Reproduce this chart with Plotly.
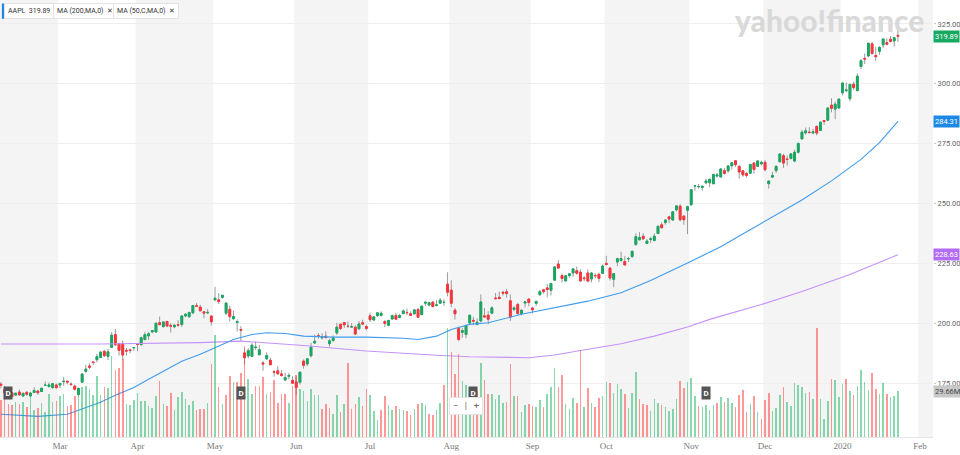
import numpy as np
import pandas as pd
import plotly.graph_objects as go

# ---------------- data (AAPL daily) ----------------
opens = [174.65,172.40,168.99,171.05,170.10,171.39,169.71,171.25,169.71,171.19,171.80,171.58,174.16,173.71,173.21,174.32,
 174.28,175.69,175.94,174.67,173.87,170.32,175.49,180.00,182.25,183.90,184.85,185.80,188.35,186.23,190.02,195.34,191.51,191.66,188.75,188.95,189.83,
 191.64,191.09,193.25,194.79,196.45,196.42,200.32,198.68,200.85,199.20,198.58,199.46,199.54,203.12,202.83,204.43,207.36,206.83,204.90,204.40,203.06,
 209.88,209.84,210.89,204.29,205.88,201.90,200.40,197.42,187.71,186.41,186.27,189.91,186.93,183.52,185.22,184.66,179.80,180.20,178.92,176.42,177.95,176.23,
 175.60,175.44,184.28,183.08,186.51,191.81,194.86,193.95,194.70,191.55,192.90,196.05,199.68,200.37,198.80,198.54,198.43,197.77,200.29,198.68,
 203.17,201.41,203.28,203.35,200.81,199.20,201.85,203.31,202.45,204.09,204.59,204.05,204.00,205.79,203.65,208.46,207.67,208.89,207.48,208.46,208.76,216.42,
 213.90,205.53,197.99,196.31,195.41,200.20,201.30,199.62,201.02,203.16,203.46,204.28,210.62,210.88,212.99,213.19,209.43,205.86,207.86,204.10,208.50,210.16,
 206.43,208.39,212.00,214.05,214.84,213.86,218.07,224.80,220.00,217.73,219.96,221.06,222.01,221.38,218.95,221.03,218.55,220.00,220.54,220.90,
 225.07,223.06,218.43,225.64,226.27,225.82,227.03,227.93,232.95,234.90,236.39,233.37,235.09,234.59,237.52,241.16,242.10,244.51,243.16,247.42,248.97,244.76,247.24,
 249.54,257.33,257.05,256.77,258.74,258.69,258.30,261.55,261.13,263.75,263.68,265.80,267.90,265.54,263.69,262.59,262.71,266.94,265.58,266.60,
 267.27,258.31,261.07,263.79,267.48,270.00,268.60,268.81,267.78,271.46,277.00,279.57,279.80,279.50,282.23,280.53,284.69,284.82,291.12,289.46,289.93,
 296.24,297.15,293.79,299.84,297.16,307.24,310.60,311.64,316.70,311.85,313.59,316.27,317.19,318.58,317.92,320.25]

highs = [175.57,173.94,170.66,171.21,171.00,172.48,171.26,171.70,171.44,173.32,172.37,173.00,175.87,175.30,175.00,174.91,
 175.15,177.75,176.00,175.49,174.44,173.07,179.12,182.67,183.30,184.10,187.33,188.39,188.99,189.49,196.33,197.69,191.98,192.88,189.76,189.56,190.08,
 191.68,194.46,196.50,196.37,197.10,200.23,202.85,200.74,201.00,200.14,199.85,201.37,203.38,204.15,204.94,207.75,208.48,207.76,205.00,205.97,203.40,
 215.31,212.65,211.84,208.84,207.42,205.34,201.68,198.85,189.48,189.70,191.75,192.47,190.90,184.35,188.00,185.71,180.54,182.14,180.59,179.35,179.23,177.99,
 177.92,179.83,184.99,185.47,191.92,195.37,196.00,195.97,196.79,193.59,194.96,200.29,199.88,200.61,200.85,200.16,199.26,200.99,201.57,199.49,
 204.49,203.13,204.44,205.08,201.40,201.51,203.73,204.39,204.00,205.87,206.11,205.09,205.88,206.50,207.23,208.91,209.15,209.24,209.73,210.64,210.16,221.37,
 218.03,206.43,198.65,198.07,199.56,203.53,202.76,202.05,212.14,206.44,205.14,207.16,212.73,213.35,213.65,214.44,212.05,207.19,208.55,205.72,209.32,210.45,
 206.98,209.48,213.97,214.42,216.44,216.78,223.71,226.42,220.79,220.13,220.82,222.85,223.76,222.56,219.84,222.49,221.50,220.94,220.96,224.58,
 228.22,223.58,220.96,227.49,229.93,228.06,227.79,230.44,237.64,238.13,237.65,235.24,236.15,237.58,240.99,242.20,243.24,244.80,246.73,249.25,249.75,245.30,249.17,
 255.93,257.85,258.19,257.49,260.35,260.44,262.47,262.79,264.78,264.88,265.78,267.43,268.00,266.08,264.01,263.18,266.44,267.16,267.98,268.00,
 268.25,259.53,263.31,265.89,271.00,270.80,270.07,271.10,272.56,275.30,280.79,281.77,281.90,281.18,282.65,284.25,284.89,289.98,293.97,292.69,293.68,
 300.60,300.58,299.96,300.90,304.44,310.43,312.67,317.07,317.57,315.50,315.70,318.74,319.02,319.99,319.56,323.33]

lows = [172.85,170.34,168.42,169.25,169.70,169.92,169.38,169.75,169.49,170.99,170.30,171.38,173.95,173.17,172.73,172.92,
 172.89,173.97,174.54,173.94,172.02,169.50,175.35,179.37,180.92,182.56,183.74,185.79,185.92,184.73,189.81,190.78,186.60,184.58,186.55,187.53,188.54,
 188.38,191.05,193.15,193.14,195.93,196.34,199.23,198.18,198.44,196.21,198.01,198.56,198.61,202.52,202.34,203.90,207.05,205.12,202.12,203.86,199.11,
 209.23,208.13,210.23,203.50,200.83,201.75,196.66,192.77,182.85,185.41,186.02,188.84,186.76,180.28,184.70,182.55,177.81,178.62,177.91,176.00,176.67,174.99,
 170.27,174.52,181.14,182.15,185.77,191.62,193.60,193.39,193.60,190.30,192.17,195.21,197.31,198.03,198.15,198.17,195.29,197.35,199.57,197.05,
 200.65,201.36,202.69,202.90,198.41,198.81,201.56,201.71,202.20,204.00,203.50,203.27,203.70,202.36,203.61,207.29,207.17,206.73,207.14,208.44,207.31,211.30,
 206.74,201.63,192.58,194.04,193.82,199.39,199.29,199.15,200.48,202.59,199.67,203.84,210.03,210.32,211.60,210.75,201.00,205.06,203.53,203.32,206.66,207.20,
 204.22,207.32,211.51,212.51,211.07,211.71,217.73,222.86,217.02,217.56,219.12,219.44,220.37,217.47,217.65,217.19,217.14,218.83,217.28,220.79,
 224.20,217.93,215.13,223.89,225.84,224.33,225.64,227.30,232.31,234.67,234.88,233.20,233.52,234.29,237.32,239.62,241.22,241.81,242.88,246.72,242.57,241.21,237.26,
 249.16,255.38,256.32,255.37,258.11,256.85,258.28,260.92,261.07,262.10,263.01,264.23,265.39,260.40,261.18,260.84,262.52,262.50,265.31,265.90,
 263.45,256.29,260.68,262.73,267.30,264.91,265.86,268.50,267.32,270.93,276.98,278.80,279.12,278.95,278.56,280.37,282.92,284.70,288.12,285.22,289.52,
 295.19,296.50,292.75,297.48,297.16,306.20,308.25,311.15,312.17,309.55,312.09,315.00,316.00,317.31,315.65,317.52]

closes = [174.24,170.94,170.41,169.43,170.89,170.18,170.80,170.42,170.93,172.03,171.06,172.97,174.23,174.33,174.87,173.15,
 174.97,175.85,175.53,174.52,172.50,172.91,178.90,180.91,181.71,183.73,186.12,188.02,186.53,188.16,195.09,191.05,188.74,186.79,188.47,188.72,189.95,
 191.24,194.02,195.35,195.69,197.00,200.10,199.50,200.62,198.95,198.87,199.23,199.25,203.13,203.86,204.53,207.48,207.16,205.28,204.30,204.61,200.67,
 210.52,209.15,211.75,208.48,202.86,202.90,200.72,197.18,185.72,188.66,190.92,190.08,189.00,183.09,186.60,182.78,179.66,178.97,178.23,177.38,178.30,175.07,
 173.30,179.64,182.54,185.22,190.15,192.58,194.81,194.19,194.15,192.74,193.89,198.45,197.87,199.46,198.78,198.58,195.57,199.80,199.74,197.92,
 201.55,202.73,204.41,204.23,200.02,201.24,203.23,201.75,203.30,205.21,204.50,203.35,205.66,202.59,207.22,208.84,208.67,207.02,207.74,209.68,208.78,213.04,
 208.43,204.02,193.34,197.00,199.04,203.43,200.99,200.48,208.97,202.75,201.74,206.50,210.35,210.36,212.64,212.46,202.64,206.49,204.16,205.53,209.01,208.74,
 205.70,209.19,213.28,213.26,214.17,216.70,223.59,223.09,218.75,219.90,220.70,222.77,220.96,217.73,218.72,217.68,221.03,219.89,218.82,223.97,
 224.59,218.96,220.82,227.01,227.06,224.40,227.03,230.09,236.21,235.87,235.32,234.37,235.28,236.41,240.51,239.96,243.18,243.58,246.58,249.05,243.29,243.26,248.76,
 255.82,257.50,257.13,257.24,259.43,260.14,262.20,261.96,264.47,262.64,265.76,267.10,266.29,263.19,262.01,261.78,266.37,264.29,267.84,267.25,
 264.16,259.45,261.74,265.58,270.71,266.92,268.48,270.77,271.46,275.15,279.86,280.41,279.74,280.02,279.44,284.00,284.27,289.91,289.80,291.52,293.65,
 300.35,297.43,299.80,298.39,303.19,309.63,310.33,316.96,312.68,311.34,315.24,318.73,316.57,317.70,319.23,319.89]

volumes_m = [23.7,24.7,21.5,20.9,22.6,21.5,22.6,19.4,26.2,17.2,18.7,21.9,16.1,28.0,22.6,23.0,
 26.2,27.7,20.0,20.9,26.2,26.2,32.3,32.7,30.8,26.9,39.4,27.3,32.3,31.6,52.0,43.4,44.7,50.5,21.5,20.9,23.7,
 28.6,23.0,23.4,20.0,18.7,26.2,36.3,21.5,19.8,28.6,17.2,25.8,29.0,24.3,20.4,23.0,17.6,18.3,18.3,22.2,46.9,
 65.6,32.3,21.5,26.9,39.4,35.5,35.5,41.5,58.5,37.2,28.0,33.0,33.0,39.0,28.0,29.0,37.0,22.0,28.0,28.0,22.0,33.0,
 40.0,31.0,30.0,23.0,31.0,27.0,27.0,18.0,21.0,19.0,15.0,27.0,16.0,21.0,48.0,18.0,21.0,26.0,20.0,31.0,
 27.3,16.6,11.2,17.2,26.5,20.9,17.2,20.0,18.3,17.2,16.6,14.4,18.3,21.1,22.2,20.4,15.1,14.0,17.6,21.7,33.8,70.3,
 54.8,40.9,53.3,36.1,33.8,30.1,24.7,30.0,47.7,36.8,27.5,27.7,24.3,26.9,21.7,22.4,47.3,26.2,26.2,15.9,20.9,21.3,
 20.0,19.1,24.1,19.1,27.5,32.0,44.7,32.3,40.2,21.3,18.3,25.4,21.9,56.3,19.4,31.6,22.2,19.1,25.4,26.2,
 35.3,35.1,28.6,34.4,30.8,27.7,18.9,28.4,41.9,24.3,21.5,20.4,16.8,24.3,21.7,20.9,19.1,17.0,17.8,24.3,36.1,31.6,35.3,
 38.1,26.2,19.8,19.1,20.4,17.4,20.4,21.9,25.6,22.4,25.2,21.7,19.1,26.9,30.5,16.1,21.1,26.2,16.1,11.4,
 23.9,28.4,17.0,18.9,26.9,32.3,22.6,19.8,34.6,33.8,32.0,28.6,29.0,24.7,70.3,24.7,11.8,23.4,37.2,36.6,25.8,
 34.2,37.2,29.9,27.3,33.1,43.0,35.5,30.5,41.1,30.8,27.5,34.8,27.9,25.6,26.2,29.66]

# moving averages at sample dates
ma50_dates = ["2019-02-06","2019-02-21","2019-03-05","2019-03-11","2019-03-18","2019-03-22","2019-03-29",
              "2019-04-04","2019-04-11","2019-04-17","2019-04-25","2019-05-01","2019-05-08","2019-05-15",
              "2019-05-21","2019-05-29","2019-06-05","2019-06-17","2019-06-28","2019-07-15","2019-07-19",
              "2019-07-26","2019-08-01","2019-08-08","2019-08-15","2019-08-28","2019-09-11","2019-09-24",
              "2019-10-07","2019-10-17","2019-11-01","2019-11-13","2019-11-20","2019-12-03","2019-12-16",
              "2019-12-27","2020-01-09","2020-01-16","2020-01-24"]
ma50_vals = [162.1,161.2,162.1,164.2,167.1,170.0,173.3,176.7,180.8,184.2,187.1,190.0,193.3,195.4,
             196.1,195.8,194.7,194.3,194.3,193.8,193.3,194.7,197.5,199.6,200.3,203.8,206.7,209.3,
             212.8,217.9,226.0,232.0,236.5,243.5,251.5,259.5,268.5,275.5,284.31]

ma200_dates = ["2019-02-06","2019-03-18","2019-04-25","2019-05-10","2019-06-05","2019-06-28","2019-07-26",
               "2019-08-08","2019-08-30","2019-09-11","2019-09-20","2019-10-07","2019-10-18","2019-10-31",
               "2019-11-08","2019-11-29","2019-12-16","2020-01-06","2020-01-24"]
ma200_vals = [191.4,191.4,192.0,192.6,190.8,188.5,186.7,186.1,185.7,186.8,188.7,191.5,194.7,198.5,
              201.7,207.9,213.3,220.4,228.63]

holidays = ["2019-02-18","2019-04-19","2019-05-27","2019-07-04","2019-09-02",
            "2019-11-28","2019-12-25","2020-01-01","2020-01-20"]
month_ticks = ["2019-03-01","2019-04-01","2019-05-01","2019-06-01","2019-07-01","2019-08-01",
               "2019-09-01","2019-10-01","2019-11-01","2019-12-01","2020-01-01","2020-02-01"]
month_labels = ["Mar","Apr","May","Jun","Jul","Aug","Sep","Oct","Nov","Dec","2020","Feb"]
shaded_months = [("2019-01-01","2019-03-01"),("2019-04-01","2019-05-01"),("2019-06-01","2019-07-01"),
                 ("2019-08-01","2019-09-01"),("2019-10-01","2019-11-01"),("2019-12-01","2020-01-01"),
                 ("2020-02-01","2020-03-01")]
dividend_dates = ["2019-02-08","2019-05-10","2019-08-09","2019-11-07"]
price_ticks = [175, 200, 225, 250, 275, 300, 325]

n = len(closes)
assert len(opens) == n and len(highs) == n and len(lows) == n and len(volumes_m) == n, \
    (len(opens), len(highs), len(lows), len(closes), len(volumes_m))

# trading-day calendar -> integer positions on the x axis
cal = pd.bdate_range("2019-02-06", "2020-02-14")
cal = cal[~cal.isin(pd.to_datetime(holidays))]
def pos(d):
    return int(np.searchsorted(cal.values, np.datetime64(pd.Timestamp(d))))

x = np.arange(n)
o = np.array(opens); h = np.array(highs); l = np.array(lows); c = np.array(closes)

GREEN = "#17a862"
RED = "#ff333a"
prev = np.concatenate([[o[0]], c[:-1]])
vol_colors = ["rgba(30,180,100,0.52)" if c[i] >= prev[i] else "rgba(255,60,60,0.52)" for i in range(n)]

fig = go.Figure()

# volume
fig.add_trace(go.Bar(x=x, y=volumes_m, marker=dict(color=vol_colors, line=dict(width=0)),
                     width=0.42, yaxis="y2", hoverinfo="skip", showlegend=False))

# moving averages
fig.add_trace(go.Scatter(x=[pos(d) for d in ma200_dates], y=ma200_vals, mode="lines",
                         line=dict(color="#c592fb", width=1.1), showlegend=False, hoverinfo="skip"))
fig.add_trace(go.Scatter(x=[pos(d) for d in ma50_dates], y=ma50_vals, mode="lines",
                         line=dict(color="#3f9cf0", width=1.1), showlegend=False, hoverinfo="skip"))

# wicks (gray) + bodies (colored)
fig.add_trace(go.Candlestick(x=x, open=o, high=h, low=l, close=c,
                             increasing=dict(line=dict(color="#9a9a9a", width=1), fillcolor="#9a9a9a"),
                             decreasing=dict(line=dict(color="#9a9a9a", width=1), fillcolor="#9a9a9a"),
                             showlegend=False, hoverinfo="skip"))
fig.add_trace(go.Candlestick(x=x, open=o, high=np.maximum(o, c), low=np.minimum(o, c), close=c,
                             increasing=dict(line=dict(color=GREEN, width=1), fillcolor=GREEN),
                             decreasing=dict(line=dict(color=RED, width=1), fillcolor=RED),
                             showlegend=False))

shapes = []
for a, b in shaded_months:
    shapes.append(dict(type="rect", xref="x", yref="paper", x0=pos(a) - 0.5, x1=pos(b) - 0.5,
                       y0=0, y1=1, fillcolor="#f4f4f4", line=dict(width=0), layer="below"))

annotations = []
# watermark
annotations.append(dict(text="yahoo!finance", xref="paper", yref="paper", x=0.993, y=1.0,
                        xanchor="right", yanchor="top", showarrow=False,
                        font=dict(family="Lato", size=30, color="#d9d9d9", weight=900)))
# legend chips
chips = [("AAPL  319.89", 0.004), ("MA (200,MA,0)  ✕", 0.057), ("MA (50,C,MA,0)  ✕", 0.121)]
for txt, xp in chips:
    annotations.append(dict(text=txt, xref="paper", yref="paper", x=xp, y=0.993, xanchor="left",
                            yanchor="top", showarrow=False, bgcolor="white", bordercolor="#e3e3e3",
                            borderwidth=1, borderpad=3, font=dict(family="Roboto", size=7, color="#333")))
shapes.append(dict(type="rect", xref="paper", yref="paper", x0=0.002, x1=0.0045, y0=0.957, y1=0.992,
                   fillcolor="#1e88e5", line=dict(width=0)))
# dividend markers
for d in dividend_dates:
    annotations.append(dict(text="<b>D</b>", x=pos(d), xref="x", y=0.085, yref="paper", showarrow=False,
                            bgcolor="#555", font=dict(family="Roboto", size=8, color="white"), borderpad=1.5))
# zoom control
annotations.append(dict(text="−   |   +", x=(pos("2019-08-05") + pos("2019-08-09")) / 2, xref="x", y=0.05,
                        yref="paper", showarrow=False, bgcolor="white", bordercolor="#e6e6e6", borderwidth=1,
                        borderpad=3, font=dict(family="Roboto", size=9, color="#666")))
# right-side value labels
labels = [(closes[-1], "y", "#17a862", "white", f"{closes[-1]:.2f}"),
          (ma50_vals[-1], "y", "#1e88e5", "white", f"{ma50_vals[-1]:.2f}"),
          (ma200_vals[-1], "y", "#b26cf5", "white", f"{ma200_vals[-1]:.2f}"),
          (volumes_m[-1], "y2", "#c8c8c8", "#444", f"{volumes_m[-1]:.2f}M")]
for val, yr, bg, fc, txt in labels:
    annotations.append(dict(text=txt, xref="paper", x=1.0, xanchor="left", xshift=0, yref=yr, y=val,
                            showarrow=False, bgcolor=bg, borderpad=1,
                            font=dict(family="Roboto", size=7.5, color=fc)))

fig.update_layout(
    width=960, height=455, margin=dict(l=0, r=27, t=0, b=18, autoexpand=False),
    paper_bgcolor="white", plot_bgcolor="white",
    shapes=shapes, annotations=annotations, showlegend=False, bargap=0,
    xaxis=dict(range=[-0.25, 252.5], tickvals=[pos(d) for d in month_ticks], ticktext=month_labels,
               showgrid=False, zeroline=False, rangeslider=dict(visible=False), showline=True,
               automargin=False,
               linecolor="#e6e6e6", ticks="", tickfont=dict(family="Liberation Serif", size=9, color="#777")),
    yaxis=dict(range=[152.6, 335.0], side="right", tickvals=price_ticks, automargin=False,
               ticktext=[f"{v:.2f}" for v in price_ticks], showgrid=True, gridcolor="#eeeeee",
               zeroline=False, ticks="outside", ticklen=2, tickcolor="#cccccc",
               tickfont=dict(family="Roboto", size=7.5, color="#666")),
    yaxis2=dict(range=[0, 282], overlaying="y", visible=False),
)

fig.write_html("out.html", config={"displayModeBar": False},
               post_script="document.body.style.margin='0';document.body.style.overflow='hidden';")
